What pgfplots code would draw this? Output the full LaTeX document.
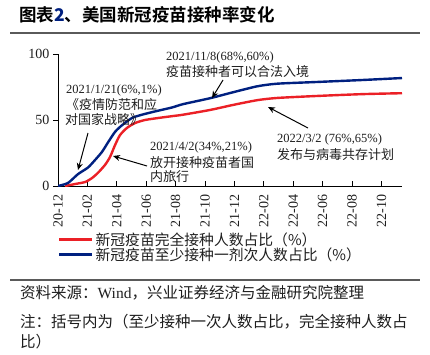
\documentclass[border=0pt]{standalone}
\usepackage{fontspec}
\usepackage{pgfplots}
\pgfplotsset{compat=1.18}
\usetikzlibrary{arrows.meta}
\setmainfont{Liberation Serif}
\newfontfamily\cjk{Noto Sans CJK SC}
\newfontfamily\cjkb{Noto Sans CJK SC Bold}
\newcommand\fs[1]{\fontsize{#1}{#1}\selectfont}
\definecolor{cred}{RGB}{235,32,38}
\definecolor{cblue}{RGB}{0,32,128}
\definecolor{rulec}{RGB}{90,90,90}
\definecolor{txt}{RGB}{30,30,30}
\begin{document}
\begin{tikzpicture}[x=1pt,y=1pt]
\path[use as bounding box] (0,0) rectangle (430,354);
% title
\node[anchor=west,inner sep=0] at (19,339) {\cjkb\fs{17.5}图表{\color{cblue}\bfseries 2}、美国新冠疫苗接种率变化};
\draw[rulec,line width=1.4pt] (10,321) -- (420,321);
\begin{axis}[
  at={(58pt,168pt)}, anchor=origin,
  scale only axis, width=344pt, height=132pt,
  xmin=0, xmax=23.4, ymin=0, ymax=100,
  axis x line*=bottom, axis y line*=left,
  axis line style={black,line width=1pt},
  tick style={black,line width=1pt},
  major tick length=5pt,
  tick align=inside,
  y tick style={xshift=-5pt},
  xtick={0,2,...,22},
  xticklabels={20-12,21-02,21-04,21-06,21-08,21-10,21-12,22-02,22-04,22-06,22-08,22-10},
  ytick={0,50,100},
  /pgf/number format/assume math mode=true,
  ticklabel style={font=\fs{14}, text=txt},
  xticklabel style={rotate=90, anchor=east, xshift=-5pt},
  yticklabel style={xshift=-5pt},
  legend style={at={(0,-0.335)}, anchor=north west, draw=none, fill=none,
     font=\cjk\fs{14.8}, text=txt, row sep=-3pt, inner sep=0pt},
  legend cell align=left,
  legend image code/.code={\draw[#1] (0pt,0pt) -- (33pt,0pt);},
]
\addplot[cred, line width=2.4pt, line join=round, smooth, tension=0.4] coordinates {
(0.48,0) (1.16,1.5) (1.84,3) (2.31,6) (2.72,10) (3.2,16) (3.54,22) (3.88,31) (4.22,38.6)
(4.69,44) (5.24,47.7) (5.92,50) (6.8,51.5) (7.82,53) (8.5,54) (10.34,57.6) (11.9,61.4)
(13.54,65) (14.9,66.7) (17.6,68.2) (20.7,69.6) (23.4,70.3)};
\addlegendentry{新冠疫苗完全接种人数占比（\%）}
\addplot[cblue, line width=2.4pt, line join=round, smooth, tension=0.4] coordinates {
(0,0) (0.68,2.3) (1.36,9) (2.04,14) (2.52,19.7) (2.99,25.8) (3.4,33) (3.88,41) (4.35,46)
(5.03,51.5) (5.71,54) (6.6,56.5) (7.76,59.5) (8.5,62) (10.34,66.5) (11.9,71) (13.54,75.5)
(14.9,77.5) (17.6,78.8) (20.7,80.3) (23.4,81.8)};
\addlegendentry{新冠疫苗至少接种一剂次人数占比（\%）}
\end{axis}
% annotations
\node[anchor=west,inner sep=0,text=txt] at (166,297) {\fs{12.5}2021/11/8(68\%,60\%)};
\node[anchor=west,inner sep=0,text=txt] at (166,282) {\cjk\fs{13}疫苗接种者可以合法入境};
\node[anchor=west,inner sep=0,text=txt] at (66,264) {\fs{12.5}2021/1/21(6\%,1\%)};
\node[anchor=west,inner sep=0,text=txt] at (66,249) {\cjk\fs{13}《疫情防范和应};
\node[anchor=west,inner sep=0,text=txt] at (65,234) {\cjk\fs{13}对国家战略》};
\node[anchor=west,inner sep=0,text=txt] at (150,207) {\fs{12.5}2021/4/2(34\%,21\%)};
\node[anchor=west,inner sep=0,text=txt] at (150,191) {\cjk\fs{13}放开接种疫苗者国};
\node[anchor=west,inner sep=0,text=txt] at (150,177) {\cjk\fs{13}内旅行};
\node[anchor=west,inner sep=0,text=txt] at (277,215) {\fs{12.5}2022/3/2 (76\%,65\%)};
\node[anchor=west,inner sep=0,text=txt] at (277,199) {\cjk\fs{13}发布与病毒共存计划};
\begin{scope}[line width=1pt,-{Stealth[length=7pt,width=6pt]}]
\draw (88,221) -- (78,184);
\draw (147,188) -- (113,198);
\draw (223,274) -- (212,256);
\draw (308,226) -- (268,247);
\end{scope}
% source
\draw[rulec,line width=1.4pt] (10,74) -- (420,74);
\node[anchor=west,inner sep=0,text=txt] at (20,61) {\cjk\fs{15.5}资料来源：{\rmfamily Wind}，兴业证券经济与金融研究院整理};
\node[anchor=west,inner sep=0,text=txt] at (20,32) {\cjk\fs{15.5}注：括号内为（至少接种一次人数占比，完全接种人数占};
\node[anchor=west,inner sep=0,text=txt] at (20,12) {\cjk\fs{15.5}比）};
\end{tikzpicture}
\end{document}
